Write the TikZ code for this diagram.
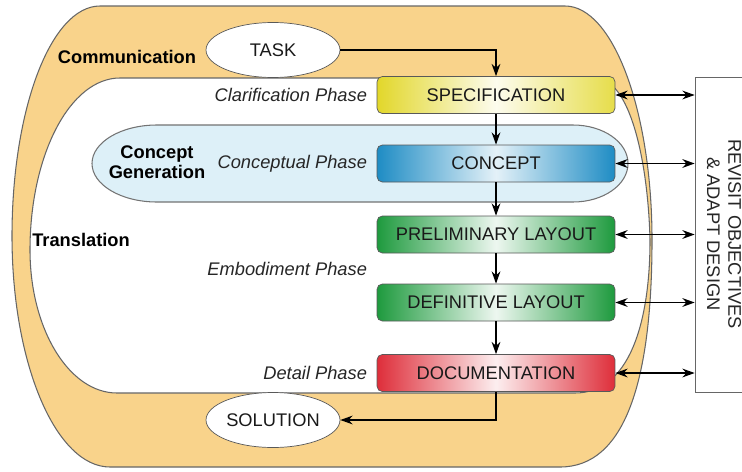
\documentclass[tikz,border=0pt]{standalone}
\usepackage{fontspec}
\setmainfont{Liberation Sans}
\usetikzlibrary{arrows.meta,shapes.geometric,positioning,calc}
\definecolor{ring}{HTML}{F9D38B}
\definecolor{gencol}{HTML}{DDF0F8}
\definecolor{specy}{HTML}{E2D72A}
\definecolor{conb}{HTML}{1E8CC4}
\definecolor{layg}{HTML}{1E9A3E}
\definecolor{docr}{HTML}{DE2E3A}
\begin{document}
\begin{tikzpicture}[x=0.02cm,y=0.02cm,font=\fontsize{10.4}{12}\selectfont,
    phase/.style={draw=black!65,rounded corners=3pt,minimum width=4.76cm,minimum height=0.74cm,text=black!90},
    oval/.style={ellipse,draw=black!65,fill=white,minimum width=2.68cm,minimum height=1.1cm,inner sep=0pt,text=black!90},
    flow/.style={-{Stealth[length=7pt,width=5pt]},line width=0.7pt},
    both/.style={{Stealth[length=7pt,width=5pt]}-{Stealth[length=7pt,width=5pt]},line width=0.7pt},
    tag/.style={font=\fontsize{10.4}{12}\selectfont\itshape,text=black!85},
    area/.style={font=\fontsize{10.4}{11.5}\selectfont\bfseries,align=center}]
  \useasboundingbox (0,0) rectangle (742,471);
  \clip (0,0) rectangle (742,471);
  % outer ring and inner field
  \draw[fill=ring,draw=black!60,line width=0.6pt] (100,465) -- (565,465) .. controls (613,465) and (652,360) .. (652,231)
    .. controls (652,90) and (625,4) .. (560,4) -- (110,4) .. controls (56,4) and (12,107) .. (12,235)
    .. controls (12,362) and (51,465) .. (100,465) -- cycle;
  \draw[fill=white,draw=black!60,line width=0.6pt] (120,393) -- (595,393) .. controls (630,393) and (648,310) .. (650,231)
    .. controls (650,150) and (630,78) .. (575,78) -- (117,78) .. controls (69,78) and (30,142) .. (30,221)
    .. controls (30,316) and (70,393) .. (120,393) -- cycle;
  \draw[fill=gencol,draw=black!55,line width=0.6pt] (157,346) -- (573,346) arc[start angle=90,end angle=-90,x radius=55,y radius=38.5]
    -- (157,269) arc[start angle=270,end angle=90,x radius=65,y radius=38.5] -- cycle;
  % phases
  \node[phase,left color=specy,right color=specy!85,middle color=specy!8] (spec) at (496,376) {SPECIFICATION};
  \node[phase,left color=conb,right color=conb,middle color=conb!12] (concept) at (496,307.5) {CONCEPT};
  \node[phase,left color=layg,right color=layg,middle color=layg!8] (prelim) at (496,236.5) {PRELIMINARY LAYOUT};
  \node[phase,left color=layg,right color=layg,middle color=layg!8] (defin) at (496,168.5) {DEFINITIVE LAYOUT};
  \node[phase,left color=docr,right color=docr,middle color=docr!8] (doc) at (496,98) {DOCUMENTATION};
  \node[oval] (task) at (273,421) {TASK};
  \node[oval] (solution) at (273,51) {SOLUTION};
  \node[draw=black!60,fill=white,minimum width=1.3cm,minimum height=6.3cm] (revisit) at (727.5,236.5) {};
  \node[rotate=-90,align=center,text=black!85] (revtext) at (724,237) {REVISIT OBJECTIVES\\\& ADAPT DESIGN};
  % labels
  \node[area] (comm) at (127,414) {Communication};
  \node[area] (trans) at (81,231) {Translation};
  \node[area] (gen) at (157,309) {Concept\\Generation};
  \coordinate (embmid) at ($(prelim.west)!0.5!(defin.west)$);
  \node[tag,left=2pt of spec] (clar) {Clarification Phase};
  \node[tag,left=2pt of concept] (concph) {Conceptual Phase};
  \node[tag,left=2pt of embmid] (emb) {Embodiment Phase};
  \node[tag,left=2pt of doc] (det) {Detail Phase};
  % connectors
  \draw[flow] (task.east) -| (spec.north);
  \draw[flow] (spec) -- (concept);
  \draw[flow] (concept) -- (prelim);
  \draw[flow] (prelim) -- (defin);
  \draw[flow] (defin) -- (doc);
  \draw[flow] (doc.south) |- (solution.east);
  \foreach \b in {spec,concept,prelim,defin,doc}
    \draw[both] (\b.east) -- (\b.east -| revisit.west);
\end{tikzpicture}
\end{document}
